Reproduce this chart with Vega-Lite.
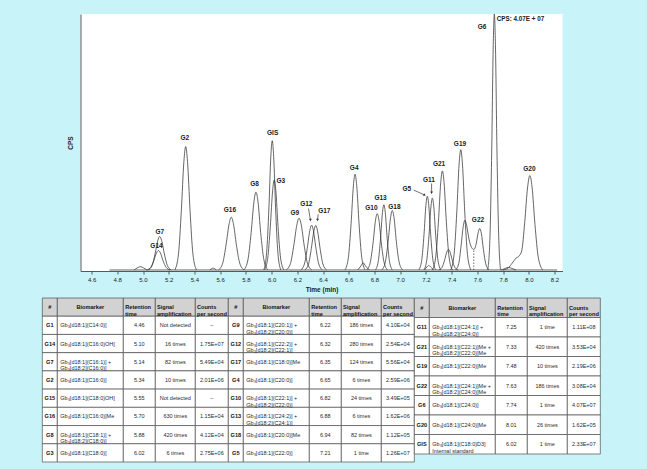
{
"$schema": "https://vega.github.io/schema/vega-lite/v6.json",
"background": "#c8f4f9",
"padding": {"left": 41, "top": 12, "right": 48, "bottom": 8},
"config": {
  "view": {"stroke": null},
  "font": "Liberation Sans",
  "axis": {"grid": false, "domainColor": "#333333", "tickColor": "#333333", "labelColor": "#222222", "titleColor": "#222222", "labelFont": "Liberation Sans", "titleFont": "Liberation Sans", "domainWidth": 0.8, "tickWidth": 0.8},
  "text": {"font": "Liberation Sans", "lineBreak": "\n", "lineHeight": 6.5, "fontSize": 5.5, "color": "#2a2a2a"}
},
"datasets": {
  "peaks": [
    {"s":"base","t":4.74,"c":0},{"s":"base","t":8.22,"c":0},
    {"s":"B498","t":4.93,"c":0},{"s":"B498","t":4.955,"c":0.8},{"s":"B498","t":4.98,"c":1.3},{"s":"B498","t":5.005,"c":0.8},{"s":"B498","t":5.03,"c":0},
    {"s":"G14","t":5.03,"c":0},{"s":"G14","t":5.06,"c":1.0},{"s":"G14","t":5.084,"c":3.6},{"s":"G14","t":5.105,"c":6.7},{"s":"G14","t":5.12,"c":7.6},{"s":"G14","t":5.135,"c":6.7},{"s":"G14","t":5.156,"c":3.6},{"s":"G14","t":5.18,"c":1.0},{"s":"G14","t":5.21,"c":0},
    {"s":"G7","t":5.04,"c":0},{"s":"G7","t":5.07,"c":1.7},{"s":"G7","t":5.094,"c":6.3},{"s":"G7","t":5.115,"c":11.5},{"s":"G7","t":5.13,"c":13.1},{"s":"G7","t":5.145,"c":11.5},{"s":"G7","t":5.166,"c":6.3},{"s":"G7","t":5.19,"c":1.7},{"s":"G7","t":5.22,"c":0},
    {"s":"G2","t":5.248,"c":0},{"s":"G2","t":5.276,"c":6.3},{"s":"G2","t":5.298,"c":23.1},{"s":"G2","t":5.318,"c":42.4},{"s":"G2","t":5.332,"c":48.2},{"s":"G2","t":5.346,"c":42.4},{"s":"G2","t":5.366,"c":23.1},{"s":"G2","t":5.388,"c":6.3},{"s":"G2","t":5.416,"c":0},
    {"s":"B555","t":5.52,"c":0},{"s":"B555","t":5.545,"c":0.7},{"s":"B555","t":5.57,"c":0},
    {"s":"G16","t":5.587,"c":0},{"s":"G16","t":5.62,"c":2.7},{"s":"G16","t":5.646,"c":9.9},{"s":"G16","t":5.67,"c":18.1},{"s":"G16","t":5.686,"c":20.6},{"s":"G16","t":5.703,"c":18.1},{"s":"G16","t":5.726,"c":9.9},{"s":"G16","t":5.752,"c":2.7},{"s":"G16","t":5.785,"c":0},
    {"s":"G8","t":5.785,"c":0},{"s":"G8","t":5.816,"c":4.0},{"s":"G8","t":5.841,"c":14.6},{"s":"G8","t":5.863,"c":26.8},{"s":"G8","t":5.878,"c":30.4},{"s":"G8","t":5.894,"c":26.8},{"s":"G8","t":5.915,"c":14.6},{"s":"G8","t":5.94,"c":4.0},{"s":"G8","t":5.971,"c":0},
    {"s":"GIS","t":5.939,"c":0},{"s":"GIS","t":5.961,"c":6.6},{"s":"GIS","t":5.979,"c":24.2},{"s":"GIS","t":5.994,"c":44.4},{"s":"GIS","t":6.005,"c":50.5},{"s":"GIS","t":6.016,"c":44.4},{"s":"GIS","t":6.031,"c":24.2},{"s":"GIS","t":6.049,"c":6.6},{"s":"GIS","t":6.071,"c":0},
    {"s":"G3","t":5.945,"c":0},{"s":"G3","t":5.97,"c":4.6},{"s":"G3","t":5.99,"c":16.9},{"s":"G3","t":6.008,"c":31.0},{"s":"G3","t":6.02,"c":35.2},{"s":"G3","t":6.033,"c":31.0},{"s":"G3","t":6.05,"c":16.9},{"s":"G3","t":6.07,"c":4.6},{"s":"G3","t":6.095,"c":0},
    {"s":"G9","t":6.114,"c":0},{"s":"G9","t":6.147,"c":2.6},{"s":"G9","t":6.173,"c":9.7},{"s":"G9","t":6.197,"c":17.8},{"s":"G9","t":6.213,"c":20.2},{"s":"G9","t":6.23,"c":17.8},{"s":"G9","t":6.253,"c":9.7},{"s":"G9","t":6.279,"c":2.6},{"s":"G9","t":6.312,"c":0},
    {"s":"G12","t":6.227,"c":0},{"s":"G12","t":6.255,"c":2.3},{"s":"G12","t":6.277,"c":8.4},{"s":"G12","t":6.297,"c":15.4},{"s":"G12","t":6.311,"c":17.5},{"s":"G12","t":6.325,"c":15.4},{"s":"G12","t":6.345,"c":8.4},{"s":"G12","t":6.367,"c":2.3},{"s":"G12","t":6.395,"c":0},
    {"s":"G17","t":6.259,"c":0},{"s":"G17","t":6.287,"c":2.3},{"s":"G17","t":6.309,"c":8.4},{"s":"G17","t":6.329,"c":15.3},{"s":"G17","t":6.343,"c":17.4},{"s":"G17","t":6.357,"c":15.3},{"s":"G17","t":6.377,"c":8.4},{"s":"G17","t":6.399,"c":2.3},{"s":"G17","t":6.427,"c":0},
    {"s":"G4","t":6.571,"c":0},{"s":"G4","t":6.597,"c":4.9},{"s":"G4","t":6.618,"c":18.0},{"s":"G4","t":6.636,"c":32.9},{"s":"G4","t":6.649,"c":37.4},{"s":"G4","t":6.662,"c":32.9},{"s":"G4","t":6.68,"c":18.0},{"s":"G4","t":6.701,"c":4.9},{"s":"G4","t":6.727,"c":0},
    {"s":"B671","t":6.67,"c":0},{"s":"B671","t":6.695,"c":1.6},{"s":"B671","t":6.712,"c":2.8},{"s":"B671","t":6.73,"c":1.6},{"s":"B671","t":6.76,"c":0},
    {"s":"G10","t":6.74,"c":0},{"s":"G10","t":6.767,"c":2.9},{"s":"G10","t":6.789,"c":10.6},{"s":"G10","t":6.808,"c":19.4},{"s":"G10","t":6.821,"c":22.0},{"s":"G10","t":6.835,"c":19.4},{"s":"G10","t":6.853,"c":10.6},{"s":"G10","t":6.875,"c":2.9},{"s":"G10","t":6.902,"c":0},
    {"s":"G13","t":6.807,"c":0},{"s":"G13","t":6.829,"c":3.3},{"s":"G13","t":6.847,"c":12.2},{"s":"G13","t":6.862,"c":22.4},{"s":"G13","t":6.873,"c":25.5},{"s":"G13","t":6.884,"c":22.4},{"s":"G13","t":6.899,"c":12.2},{"s":"G13","t":6.917,"c":3.3},{"s":"G13","t":6.939,"c":0},
    {"s":"G18","t":6.857,"c":0},{"s":"G18","t":6.884,"c":3.0},{"s":"G18","t":6.906,"c":11.1},{"s":"G18","t":6.925,"c":20.4},{"s":"G18","t":6.938,"c":23.2},{"s":"G18","t":6.952,"c":20.4},{"s":"G18","t":6.97,"c":11.1},{"s":"G18","t":6.992,"c":3.0},{"s":"G18","t":7.019,"c":0},
    {"s":"G5","t":7.145,"c":0},{"s":"G5","t":7.167,"c":3.7},{"s":"G5","t":7.185,"c":13.8},{"s":"G5","t":7.2,"c":25.3},{"s":"G5","t":7.211,"c":28.8},{"s":"G5","t":7.222,"c":25.3},{"s":"G5","t":7.237,"c":13.8},{"s":"G5","t":7.255,"c":3.7},{"s":"G5","t":7.277,"c":0},
    {"s":"B722","t":7.19,"c":0},{"s":"B722","t":7.208,"c":1.2},{"s":"B722","t":7.222,"c":1.8},{"s":"B722","t":7.236,"c":1.2},{"s":"B722","t":7.26,"c":0},
    {"s":"G11","t":7.184,"c":0},{"s":"G11","t":7.206,"c":3.7},{"s":"G11","t":7.224,"c":13.5},{"s":"G11","t":7.239,"c":24.7},{"s":"G11","t":7.25,"c":28.1},{"s":"G11","t":7.261,"c":24.7},{"s":"G11","t":7.276,"c":13.5},{"s":"G11","t":7.294,"c":3.7},{"s":"G11","t":7.316,"c":0},
    {"s":"G21","t":7.25,"c":0},{"s":"G21","t":7.276,"c":5.0},{"s":"G21","t":7.297,"c":18.6},{"s":"G21","t":7.315,"c":34.1},{"s":"G21","t":7.328,"c":38.7},{"s":"G21","t":7.341,"c":34.1},{"s":"G21","t":7.359,"c":18.6},{"s":"G21","t":7.38,"c":5.0},{"s":"G21","t":7.406,"c":0},
    {"s":"X737","t":7.3,"c":0},{"s":"X737","t":7.325,"c":1.0},{"s":"X737","t":7.345,"c":3.8},{"s":"X737","t":7.362,"c":7.0},{"s":"X737","t":7.375,"c":8.0},{"s":"X737","t":7.388,"c":7.0},{"s":"X737","t":7.405,"c":3.8},{"s":"X737","t":7.425,"c":1.0},{"s":"X737","t":7.45,"c":0},
    {"s":"G19","t":7.393,"c":0},{"s":"G19","t":7.419,"c":6.1},{"s":"G19","t":7.44,"c":22.6},{"s":"G19","t":7.458,"c":41.4},{"s":"G19","t":7.471,"c":47.0},{"s":"G19","t":7.484,"c":41.4},{"s":"G19","t":7.502,"c":22.6},{"s":"G19","t":7.523,"c":6.1},{"s":"G19","t":7.549,"c":0},
    {"s":"G22","t":7.43,"c":0},{"s":"G22","t":7.455,"c":2.5},{"s":"G22","t":7.473,"c":9.3},{"s":"G22","t":7.49,"c":17.0},{"s":"G22","t":7.503,"c":19.4},{"s":"G22","t":7.516,"c":17.5},{"s":"G22","t":7.535,"c":12.0},{"s":"G22","t":7.555,"c":8.8},{"s":"G22","t":7.572,"c":8.0},{"s":"G22","t":7.59,"c":10.0},{"s":"G22","t":7.605,"c":14.3},{"s":"G22","t":7.618,"c":16.2},{"s":"G22","t":7.631,"c":14.3},{"s":"G22","t":7.647,"c":8.0},{"s":"G22","t":7.665,"c":2.5},{"s":"G22","t":7.69,"c":0},
    {"s":"G6","t":7.681,"c":0},{"s":"G6","t":7.698,"c":13},{"s":"G6","t":7.712,"c":48},{"s":"G6","t":7.7235,"c":88},{"s":"G6","t":7.732,"c":100},{"s":"G6","t":7.7405,"c":88},{"s":"G6","t":7.752,"c":48},{"s":"G6","t":7.766,"c":13},{"s":"G6","t":7.783,"c":0},{"s":"G6","t":7.81,"c":0.5},{"s":"G6","t":7.84,"c":1.0},{"s":"G6","t":7.87,"c":0.6},{"s":"G6","t":7.9,"c":0},
    {"s":"G20","t":7.8,"c":0},{"s":"G20","t":7.84,"c":0.8},{"s":"G20","t":7.87,"c":2.6},{"s":"G20","t":7.9,"c":4.6},{"s":"G20","t":7.925,"c":5.5},{"s":"G20","t":7.945,"c":7.5},{"s":"G20","t":7.968,"c":18.5},{"s":"G20","t":7.991,"c":32.5},{"s":"G20","t":8.008,"c":36.9},{"s":"G20","t":8.025,"c":32.5},{"s":"G20","t":8.048,"c":17.7},{"s":"G20","t":8.074,"c":4.8},{"s":"G20","t":8.108,"c":0}
  ],
  "cut": [{"t":7.572,"c":0,"c2":8.0}],
  "arrows": [
    {"lab":"G5","t":7.19,"c":29.3,"t2":7.105,"c2":31.2},
    {"lab":"G11","t":7.244,"c":30.2,"t2":7.244,"c2":33.8},
    {"lab":"G12","t":6.302,"c":19.5,"t2":6.287,"c2":24.0},
    {"lab":"G17","t":6.357,"c":19.5,"t2":6.362,"c2":21.8}
  ],
  "labels": [
    {"lab":"G14","t":5.105,"c":9.5},{"lab":"G7","t":5.13,"c":14.9},{"lab":"G2","t":5.325,"c":51.6},{"lab":"G16","t":5.676,"c":23.3},
    {"lab":"G8","t":5.868,"c":33.7},{"lab":"GIS","t":6.008,"c":53.4},{"lab":"G3","t":6.072,"c":34.6},{"lab":"G9","t":6.18,"c":22.3},
    {"lab":"G12","t":6.27,"c":25.6},{"lab":"G17","t":6.41,"c":23.1},{"lab":"G4","t":6.642,"c":39.8},{"lab":"G10","t":6.776,"c":24.1},
    {"lab":"G13","t":6.847,"c":28.0},{"lab":"G18","t":6.955,"c":24.5},{"lab":"G5","t":7.052,"c":31.6},{"lab":"G11","t":7.224,"c":35.2},
    {"lab":"G21","t":7.302,"c":41.3},{"lab":"G19","t":7.465,"c":49.1},{"lab":"G22","t":7.605,"c":19.4},{"lab":"G20","t":8.005,"c":39.4},
    {"lab":"G6","t":7.637,"c":94.8}
  ],
  "note": [{"lab":"CPS: 4.07E + 07","t":7.751,"c":98.1}],
  "tbl": [
    {"g":1,"r":0,"id":"#","bio":"Biomarker","rt":"Retention\ntime","amp":"Signal\namplification","cps":"Counts\nper second"},
    {"g":1,"r":1,"id":"G1","bio":"Gb₃[d18:1](C14:0)]","rt":"4.46","amp":"Not detected","cps":"–"},
    {"g":1,"r":2,"id":"G14","bio":"Gb₃[d18:1](C16:0)OH]","rt":"5.10","amp":"16 times","cps":"1.75E+07"},
    {"g":1,"r":3,"id":"G7","bio":"Gb₃[d18:1](C16:1)] +\nGb₃[d18:2](C16:0)]","rt":"5.14","amp":"82 times","cps":"5.49E+04"},
    {"g":1,"r":4,"id":"G2","bio":"Gb₃[d18:1](C16:0)]","rt":"5.34","amp":"10 times","cps":"2.01E+06"},
    {"g":1,"r":5,"id":"G15","bio":"Gb₃[d18:1](C18:0)OH]","rt":"5.55","amp":"Not detected","cps":"–"},
    {"g":1,"r":6,"id":"G16","bio":"Gb₃[d18:1](C16:0)]Me","rt":"5.70","amp":"630 times","cps":"1.15E+04"},
    {"g":1,"r":7,"id":"G8","bio":"Gb₃[d18:1](C18:1)] +\nGb₃[d18:2](C18:0)]","rt":"5.88","amp":"420 times","cps":"4.12E+04"},
    {"g":1,"r":8,"id":"G3","bio":"Gb₃[d18:1](C18:0)]","rt":"6.02","amp":"6 times","cps":"2.75E+06"},
    {"g":2,"r":0,"id":"#","bio":"Biomarker","rt":"Retention\ntime","amp":"Signal\namplification","cps":"Counts\nper second"},
    {"g":2,"r":1,"id":"G9","bio":"Gb₃[d18:1](C20:1)] +\nGb₃[d18:2](C20:0)]","rt":"6.22","amp":"186 times","cps":"4.10E+04"},
    {"g":2,"r":2,"id":"G12","bio":"Gb₃[d18:1](C22:2)] +\nGb₃[d18:2](C22:1)]","rt":"6.32","amp":"280 times","cps":"2.54E+04"},
    {"g":2,"r":3,"id":"G17","bio":"Gb₃[d18:1](C18:0)]Me","rt":"6.35","amp":"124 times","cps":"5.56E+04"},
    {"g":2,"r":4,"id":"G4","bio":"Gb₃[d18:1](C20:0)]","rt":"6.65","amp":"6 times","cps":"2.59E+06"},
    {"g":2,"r":5,"id":"G10","bio":"Gb₃[d18:1](C22:1)] +\nGb₃[d18:2](C22:0)]","rt":"6.82","amp":"24 times","cps":"3.49E+05"},
    {"g":2,"r":6,"id":"G13","bio":"Gb₃[d18:1](C24:2)] +\nGb₃[d18:2](C24:1)]","rt":"6.88","amp":"6 times","cps":"1.62E+06"},
    {"g":2,"r":7,"id":"G18","bio":"Gb₃[d18:1](C20:0)]Me","rt":"6.94","amp":"82 times","cps":"1.12E+05"},
    {"g":2,"r":8,"id":"G5","bio":"Gb₃[d18:1](C22:0)]","rt":"7.21","amp":"1 time","cps":"1.26E+07"},
    {"g":3,"r":0,"id":"#","bio":"Biomarker","rt":"Retention\ntime","amp":"Signal\namplification","cps":"Counts\nper second"},
    {"g":3,"r":1,"id":"G11","bio":"Gb₃[d18:1](C24:1)] +\nGb₃[d18:2](C24:0)]","rt":"7.25","amp":"1 time","cps":"1.11E+08"},
    {"g":3,"r":2,"id":"G21","bio":"Gb₃[d18:1](C22:1)]Me +\nGb₃[d18:2](C22:0)]Me","rt":"7.33","amp":"420 times","cps":"3.53E+04"},
    {"g":3,"r":3,"id":"G19","bio":"Gb₃[d18:1](C22:0)]Me","rt":"7.48","amp":"10 times","cps":"2.19E+06"},
    {"g":3,"r":4,"id":"G22","bio":"Gb₃[d18:1](C24:1)]Me +\nGb₃[d18:2](C24:0)]Me","rt":"7.63","amp":"186 times","cps":"3.08E+04"},
    {"g":3,"r":5,"id":"G6","bio":"Gb₃[d18:1](C24:0)]","rt":"7.74","amp":"1 time","cps":"4.07E+07"},
    {"g":3,"r":6,"id":"G20","bio":"Gb₃[d18:1](C24:0)]Me","rt":"8.01","amp":"26 times","cps":"1.62E+05"},
    {"g":3,"r":7,"id":"GIS","bio":"Gb₃[d18:1](C18:0)D3]\nInternal standard","rt":"6.02","amp":"1 time","cps":"2.33E+07"}
  ]
},
"spacing": 4,
"center": true,
"vconcat": [
{
  "width": 482, "height": 257,
  "view": {"fill": "#ffffff", "stroke": null},
  "encoding": {
    "x": {"field": "t", "type": "quantitative", "scale": {"domain": [4.514, 8.262], "nice": false, "zero": false},
      "axis": {"title": "Time (min)", "values": [4.6,4.8,5.0,5.2,5.4,5.6,5.8,6.0,6.2,6.4,6.6,6.8,7.0,7.2,7.4,7.6,7.8,8.0,8.2], "format": ".1f", "tickSize": 3, "labelFontSize": 6, "labelPadding": 2, "titleFontSize": 6.5, "titleFontWeight": "bold", "titlePadding": 4, "labelFlush": false}},
    "y": {"field": "c", "type": "quantitative", "scale": {"domain": [-0.4, 100], "nice": false, "zero": false},
      "axis": {"title": "CPS", "ticks": false, "labels": false, "titleFontSize": 6.5, "titleFontWeight": "bold", "titlePadding": 7}}
  },
  "layer": [
    {"data": {"name": "peaks"}, "mark": {"type": "line", "interpolate": "monotone", "color": "#333333", "strokeWidth": 0.75}, "encoding": {"detail": {"field": "s", "type": "nominal"}}},
    {"data": {"name": "cut"}, "mark": {"type": "rule", "color": "#333333", "strokeWidth": 0.7, "strokeDash": [1.5, 1.5]}, "encoding": {"y2": {"field": "c2"}}},
    {"data": {"name": "arrows"}, "mark": {"type": "rule", "color": "#333333", "strokeWidth": 0.7}, "encoding": {"x2": {"field": "t2"}, "y2": {"field": "c2"}}},
    {"data": {"name": "arrows"}, "transform": [{"filter": "datum.lab != 'G5'"}], "mark": {"type": "point", "shape": "triangle-down", "filled": true, "size": 8, "color": "#333333", "opacity": 1}},
    {"data": {"name": "arrows"}, "transform": [{"filter": "datum.lab == 'G5'"}], "mark": {"type": "point", "shape": "triangle-down", "filled": true, "size": 8, "color": "#333333", "opacity": 1, "angle": 295}},
    {"data": {"name": "labels"}, "mark": {"type": "text", "fontWeight": "bold", "fontSize": 6.5, "color": "#1a1a1a"}, "encoding": {"text": {"field": "lab"}}},
    {"data": {"name": "note"}, "mark": {"type": "text", "fontWeight": "bold", "fontSize": 6.3, "align": "left", "color": "#1a1a1a"}, "encoding": {"text": {"field": "lab"}}}
  ]
},
{
  "spacing": 0,
  "bounds": "flush",
  "hconcat": [
    {"width": 15, "height": 164, "data": {"name": "tbl"}, "transform": [{"filter": "datum.g == 1"}],
     "encoding": {"y": {"field": "r", "type": "ordinal", "axis": null, "scale": {"paddingInner": 0, "paddingOuter": 0}}},
     "layer": [
       {"mark": {"type": "rect", "stroke": "#4d4d4d", "strokeWidth": 0.7}, "encoding": {"x": {"datum": 0, "type": "quantitative", "scale": {"domain": [0, 1]}, "axis": null}, "x2": {"datum": 1}, "fill": {"condition": {"test": "datum.r == 0", "value": "#d2d2d2"}, "value": "#ffffff"}}},
       {"mark": {"type": "text", "fontWeight": "bold", "fontSize": 5.6, "color": "#111111"}, "encoding": {"x": {"datum": 0.5, "type": "quantitative"}, "text": {"field": "id"}}}
     ]},
    {"width": 66, "height": 164, "data": {"name": "tbl"}, "transform": [{"filter": "datum.g == 1"}],
     "encoding": {"y": {"field": "r", "type": "ordinal", "axis": null, "scale": {"paddingInner": 0, "paddingOuter": 0}}},
     "layer": [
       {"mark": {"type": "rect", "stroke": "#4d4d4d", "strokeWidth": 0.7}, "encoding": {"x": {"datum": 0, "type": "quantitative", "scale": {"domain": [0, 1]}, "axis": null}, "x2": {"datum": 1}, "fill": {"condition": {"test": "datum.r == 0", "value": "#d2d2d2"}, "value": "#ffffff"}}},
       {"transform": [{"filter": "datum.r == 0"}], "mark": {"type": "text", "fontWeight": "bold", "fontSize": 5.6, "color": "#111111"}, "encoding": {"x": {"datum": 0.5, "type": "quantitative"}, "text": {"field": "bio"}}},
       {"transform": [{"filter": "datum.r > 0"}], "mark": {"type": "text", "align": "left"}, "encoding": {"x": {"datum": 0.045, "type": "quantitative"}, "text": {"field": "bio"}}}
     ]},
    {"width": 32, "height": 164, "data": {"name": "tbl"}, "transform": [{"filter": "datum.g == 1"}],
     "encoding": {"y": {"field": "r", "type": "ordinal", "axis": null, "scale": {"paddingInner": 0, "paddingOuter": 0}}},
     "layer": [
       {"mark": {"type": "rect", "stroke": "#4d4d4d", "strokeWidth": 0.7}, "encoding": {"x": {"datum": 0, "type": "quantitative", "scale": {"domain": [0, 1]}, "axis": null}, "x2": {"datum": 1}, "fill": {"condition": {"test": "datum.r == 0", "value": "#d2d2d2"}, "value": "#ffffff"}}},
       {"transform": [{"filter": "datum.r == 0"}], "mark": {"type": "text", "fontWeight": "bold", "fontSize": 5.6, "align": "left", "color": "#111111"}, "encoding": {"x": {"datum": 0.06, "type": "quantitative"}, "text": {"field": "rt"}}},
       {"transform": [{"filter": "datum.r > 0"}], "mark": {"type": "text"}, "encoding": {"x": {"datum": 0.5, "type": "quantitative"}, "text": {"field": "rt"}}}
     ]},
    {"width": 40, "height": 164, "data": {"name": "tbl"}, "transform": [{"filter": "datum.g == 1"}],
     "encoding": {"y": {"field": "r", "type": "ordinal", "axis": null, "scale": {"paddingInner": 0, "paddingOuter": 0}}},
     "layer": [
       {"mark": {"type": "rect", "stroke": "#4d4d4d", "strokeWidth": 0.7}, "encoding": {"x": {"datum": 0, "type": "quantitative", "scale": {"domain": [0, 1]}, "axis": null}, "x2": {"datum": 1}, "fill": {"condition": {"test": "datum.r == 0", "value": "#d2d2d2"}, "value": "#ffffff"}}},
       {"transform": [{"filter": "datum.r == 0"}], "mark": {"type": "text", "fontWeight": "bold", "fontSize": 5.6, "align": "left", "color": "#111111"}, "encoding": {"x": {"datum": 0.04, "type": "quantitative"}, "text": {"field": "amp"}}},
       {"transform": [{"filter": "datum.r > 0"}], "mark": {"type": "text"}, "encoding": {"x": {"datum": 0.5, "type": "quantitative"}, "text": {"field": "amp"}}}
     ]},
    {"width": 33, "height": 164, "data": {"name": "tbl"}, "transform": [{"filter": "datum.g == 1"}],
     "encoding": {"y": {"field": "r", "type": "ordinal", "axis": null, "scale": {"paddingInner": 0, "paddingOuter": 0}}},
     "layer": [
       {"mark": {"type": "rect", "stroke": "#4d4d4d", "strokeWidth": 0.7}, "encoding": {"x": {"datum": 0, "type": "quantitative", "scale": {"domain": [0, 1]}, "axis": null}, "x2": {"datum": 1}, "fill": {"condition": {"test": "datum.r == 0", "value": "#d2d2d2"}, "value": "#ffffff"}}},
       {"transform": [{"filter": "datum.r == 0"}], "mark": {"type": "text", "fontWeight": "bold", "fontSize": 5.6, "align": "left", "color": "#111111"}, "encoding": {"x": {"datum": 0.05, "type": "quantitative"}, "text": {"field": "cps"}}},
       {"transform": [{"filter": "datum.r > 0"}], "mark": {"type": "text"}, "encoding": {"x": {"datum": 0.5, "type": "quantitative"}, "text": {"field": "cps"}}}
     ]},
    {"width": 15, "height": 164, "data": {"name": "tbl"}, "transform": [{"filter": "datum.g == 2"}],
     "encoding": {"y": {"field": "r", "type": "ordinal", "axis": null, "scale": {"paddingInner": 0, "paddingOuter": 0}}},
     "layer": [
       {"mark": {"type": "rect", "stroke": "#4d4d4d", "strokeWidth": 0.7}, "encoding": {"x": {"datum": 0, "type": "quantitative", "scale": {"domain": [0, 1]}, "axis": null}, "x2": {"datum": 1}, "fill": {"condition": {"test": "datum.r == 0", "value": "#d2d2d2"}, "value": "#ffffff"}}},
       {"mark": {"type": "text", "fontWeight": "bold", "fontSize": 5.6, "color": "#111111"}, "encoding": {"x": {"datum": 0.5, "type": "quantitative"}, "text": {"field": "id"}}}
     ]},
    {"width": 66, "height": 164, "data": {"name": "tbl"}, "transform": [{"filter": "datum.g == 2"}],
     "encoding": {"y": {"field": "r", "type": "ordinal", "axis": null, "scale": {"paddingInner": 0, "paddingOuter": 0}}},
     "layer": [
       {"mark": {"type": "rect", "stroke": "#4d4d4d", "strokeWidth": 0.7}, "encoding": {"x": {"datum": 0, "type": "quantitative", "scale": {"domain": [0, 1]}, "axis": null}, "x2": {"datum": 1}, "fill": {"condition": {"test": "datum.r == 0", "value": "#d2d2d2"}, "value": "#ffffff"}}},
       {"transform": [{"filter": "datum.r == 0"}], "mark": {"type": "text", "fontWeight": "bold", "fontSize": 5.6, "color": "#111111"}, "encoding": {"x": {"datum": 0.5, "type": "quantitative"}, "text": {"field": "bio"}}},
       {"transform": [{"filter": "datum.r > 0"}], "mark": {"type": "text", "align": "left"}, "encoding": {"x": {"datum": 0.045, "type": "quantitative"}, "text": {"field": "bio"}}}
     ]},
    {"width": 32, "height": 164, "data": {"name": "tbl"}, "transform": [{"filter": "datum.g == 2"}],
     "encoding": {"y": {"field": "r", "type": "ordinal", "axis": null, "scale": {"paddingInner": 0, "paddingOuter": 0}}},
     "layer": [
       {"mark": {"type": "rect", "stroke": "#4d4d4d", "strokeWidth": 0.7}, "encoding": {"x": {"datum": 0, "type": "quantitative", "scale": {"domain": [0, 1]}, "axis": null}, "x2": {"datum": 1}, "fill": {"condition": {"test": "datum.r == 0", "value": "#d2d2d2"}, "value": "#ffffff"}}},
       {"transform": [{"filter": "datum.r == 0"}], "mark": {"type": "text", "fontWeight": "bold", "fontSize": 5.6, "align": "left", "color": "#111111"}, "encoding": {"x": {"datum": 0.06, "type": "quantitative"}, "text": {"field": "rt"}}},
       {"transform": [{"filter": "datum.r > 0"}], "mark": {"type": "text"}, "encoding": {"x": {"datum": 0.5, "type": "quantitative"}, "text": {"field": "rt"}}}
     ]},
    {"width": 40, "height": 164, "data": {"name": "tbl"}, "transform": [{"filter": "datum.g == 2"}],
     "encoding": {"y": {"field": "r", "type": "ordinal", "axis": null, "scale": {"paddingInner": 0, "paddingOuter": 0}}},
     "layer": [
       {"mark": {"type": "rect", "stroke": "#4d4d4d", "strokeWidth": 0.7}, "encoding": {"x": {"datum": 0, "type": "quantitative", "scale": {"domain": [0, 1]}, "axis": null}, "x2": {"datum": 1}, "fill": {"condition": {"test": "datum.r == 0", "value": "#d2d2d2"}, "value": "#ffffff"}}},
       {"transform": [{"filter": "datum.r == 0"}], "mark": {"type": "text", "fontWeight": "bold", "fontSize": 5.6, "align": "left", "color": "#111111"}, "encoding": {"x": {"datum": 0.04, "type": "quantitative"}, "text": {"field": "amp"}}},
       {"transform": [{"filter": "datum.r > 0"}], "mark": {"type": "text"}, "encoding": {"x": {"datum": 0.5, "type": "quantitative"}, "text": {"field": "amp"}}}
     ]},
    {"width": 33, "height": 164, "data": {"name": "tbl"}, "transform": [{"filter": "datum.g == 2"}],
     "encoding": {"y": {"field": "r", "type": "ordinal", "axis": null, "scale": {"paddingInner": 0, "paddingOuter": 0}}},
     "layer": [
       {"mark": {"type": "rect", "stroke": "#4d4d4d", "strokeWidth": 0.7}, "encoding": {"x": {"datum": 0, "type": "quantitative", "scale": {"domain": [0, 1]}, "axis": null}, "x2": {"datum": 1}, "fill": {"condition": {"test": "datum.r == 0", "value": "#d2d2d2"}, "value": "#ffffff"}}},
       {"transform": [{"filter": "datum.r == 0"}], "mark": {"type": "text", "fontWeight": "bold", "fontSize": 5.6, "align": "left", "color": "#111111"}, "encoding": {"x": {"datum": 0.05, "type": "quantitative"}, "text": {"field": "cps"}}},
       {"transform": [{"filter": "datum.r > 0"}], "mark": {"type": "text"}, "encoding": {"x": {"datum": 0.5, "type": "quantitative"}, "text": {"field": "cps"}}}
     ]},
    {"width": 15, "height": 156, "data": {"name": "tbl"}, "transform": [{"filter": "datum.g == 3"}],
     "encoding": {"y": {"field": "r", "type": "ordinal", "axis": null, "scale": {"paddingInner": 0, "paddingOuter": 0}}},
     "layer": [
       {"mark": {"type": "rect", "stroke": "#4d4d4d", "strokeWidth": 0.7}, "encoding": {"x": {"datum": 0, "type": "quantitative", "scale": {"domain": [0, 1]}, "axis": null}, "x2": {"datum": 1}, "fill": {"condition": {"test": "datum.r == 0", "value": "#d2d2d2"}, "value": "#ffffff"}}},
       {"mark": {"type": "text", "fontWeight": "bold", "fontSize": 5.6, "color": "#111111"}, "encoding": {"x": {"datum": 0.5, "type": "quantitative"}, "text": {"field": "id"}}}
     ]},
    {"width": 66, "height": 156, "data": {"name": "tbl"}, "transform": [{"filter": "datum.g == 3"}],
     "encoding": {"y": {"field": "r", "type": "ordinal", "axis": null, "scale": {"paddingInner": 0, "paddingOuter": 0}}},
     "layer": [
       {"mark": {"type": "rect", "stroke": "#4d4d4d", "strokeWidth": 0.7}, "encoding": {"x": {"datum": 0, "type": "quantitative", "scale": {"domain": [0, 1]}, "axis": null}, "x2": {"datum": 1}, "fill": {"condition": {"test": "datum.r == 0", "value": "#d2d2d2"}, "value": "#ffffff"}}},
       {"transform": [{"filter": "datum.r == 0"}], "mark": {"type": "text", "fontWeight": "bold", "fontSize": 5.6, "color": "#111111"}, "encoding": {"x": {"datum": 0.5, "type": "quantitative"}, "text": {"field": "bio"}}},
       {"transform": [{"filter": "datum.r > 0"}], "mark": {"type": "text", "align": "left"}, "encoding": {"x": {"datum": 0.045, "type": "quantitative"}, "text": {"field": "bio"}}}
     ]},
    {"width": 32, "height": 156, "data": {"name": "tbl"}, "transform": [{"filter": "datum.g == 3"}],
     "encoding": {"y": {"field": "r", "type": "ordinal", "axis": null, "scale": {"paddingInner": 0, "paddingOuter": 0}}},
     "layer": [
       {"mark": {"type": "rect", "stroke": "#4d4d4d", "strokeWidth": 0.7}, "encoding": {"x": {"datum": 0, "type": "quantitative", "scale": {"domain": [0, 1]}, "axis": null}, "x2": {"datum": 1}, "fill": {"condition": {"test": "datum.r == 0", "value": "#d2d2d2"}, "value": "#ffffff"}}},
       {"transform": [{"filter": "datum.r == 0"}], "mark": {"type": "text", "fontWeight": "bold", "fontSize": 5.6, "align": "left", "color": "#111111"}, "encoding": {"x": {"datum": 0.06, "type": "quantitative"}, "text": {"field": "rt"}}},
       {"transform": [{"filter": "datum.r > 0"}], "mark": {"type": "text"}, "encoding": {"x": {"datum": 0.5, "type": "quantitative"}, "text": {"field": "rt"}}}
     ]},
    {"width": 40, "height": 156, "data": {"name": "tbl"}, "transform": [{"filter": "datum.g == 3"}],
     "encoding": {"y": {"field": "r", "type": "ordinal", "axis": null, "scale": {"paddingInner": 0, "paddingOuter": 0}}},
     "layer": [
       {"mark": {"type": "rect", "stroke": "#4d4d4d", "strokeWidth": 0.7}, "encoding": {"x": {"datum": 0, "type": "quantitative", "scale": {"domain": [0, 1]}, "axis": null}, "x2": {"datum": 1}, "fill": {"condition": {"test": "datum.r == 0", "value": "#d2d2d2"}, "value": "#ffffff"}}},
       {"transform": [{"filter": "datum.r == 0"}], "mark": {"type": "text", "fontWeight": "bold", "fontSize": 5.6, "align": "left", "color": "#111111"}, "encoding": {"x": {"datum": 0.04, "type": "quantitative"}, "text": {"field": "amp"}}},
       {"transform": [{"filter": "datum.r > 0"}], "mark": {"type": "text"}, "encoding": {"x": {"datum": 0.5, "type": "quantitative"}, "text": {"field": "amp"}}}
     ]},
    {"width": 33, "height": 156, "data": {"name": "tbl"}, "transform": [{"filter": "datum.g == 3"}],
     "encoding": {"y": {"field": "r", "type": "ordinal", "axis": null, "scale": {"paddingInner": 0, "paddingOuter": 0}}},
     "layer": [
       {"mark": {"type": "rect", "stroke": "#4d4d4d", "strokeWidth": 0.7}, "encoding": {"x": {"datum": 0, "type": "quantitative", "scale": {"domain": [0, 1]}, "axis": null}, "x2": {"datum": 1}, "fill": {"condition": {"test": "datum.r == 0", "value": "#d2d2d2"}, "value": "#ffffff"}}},
       {"transform": [{"filter": "datum.r == 0"}], "mark": {"type": "text", "fontWeight": "bold", "fontSize": 5.6, "align": "left", "color": "#111111"}, "encoding": {"x": {"datum": 0.05, "type": "quantitative"}, "text": {"field": "cps"}}},
       {"transform": [{"filter": "datum.r > 0"}], "mark": {"type": "text"}, "encoding": {"x": {"datum": 0.5, "type": "quantitative"}, "text": {"field": "cps"}}}
     ]}
  ]
}
]
}
